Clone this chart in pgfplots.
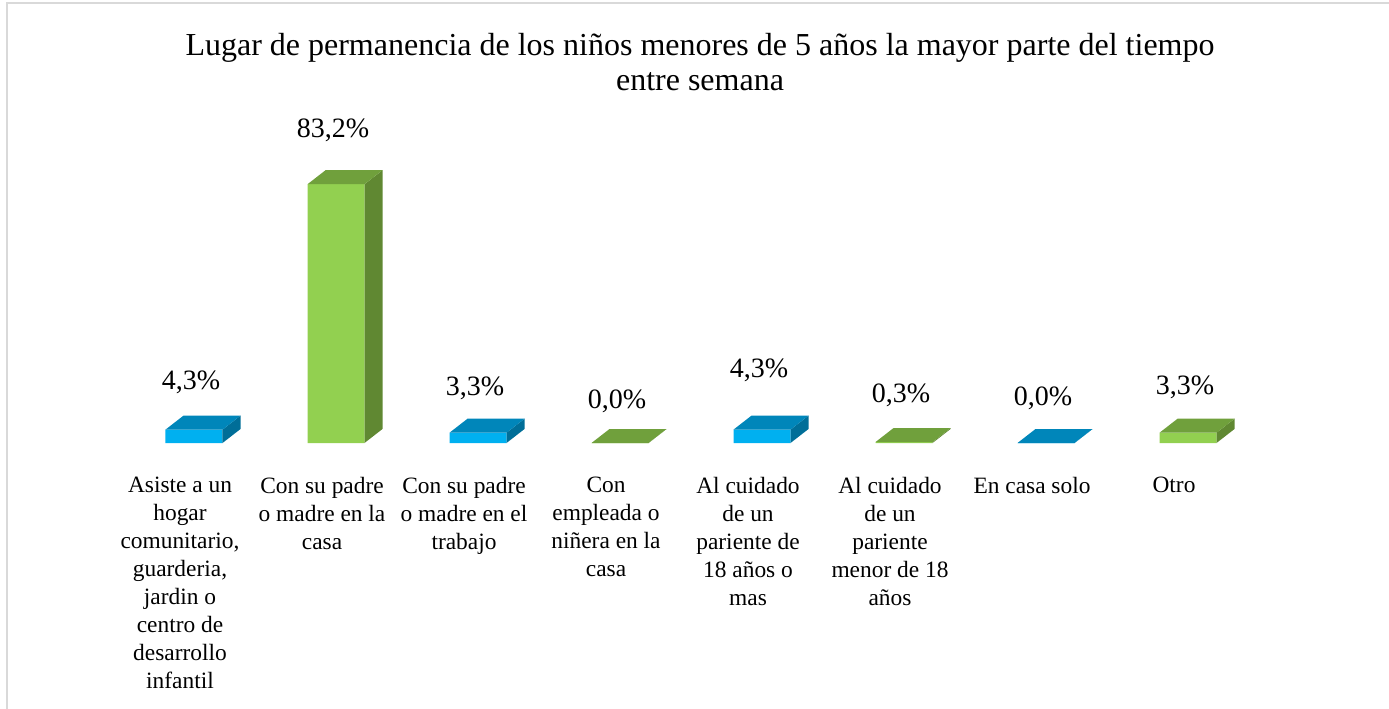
\documentclass[border=0pt]{standalone}
\usepackage{fontspec}
\setmainfont{Liberation Serif}
\usepackage{pgfplots}
\usepackage{pgfplotstable}
\pgfplotsset{compat=1.18}

\definecolor{bluefront}{RGB}{0,176,240}
\definecolor{bluetop}{RGB}{0,134,186}
\definecolor{blueside}{RGB}{0,110,152}
\definecolor{greenfront}{RGB}{146,208,80}
\definecolor{greentop}{RGB}{112,160,60}
\definecolor{greenside}{RGB}{96,136,50}
\definecolor{framegray}{RGB}{217,217,217}

% 3d look: half width 14.25pt, depth 9pt right / 7pt up, 1% = 1.555pt
\pgfdeclareplotmark{barside}{%
  \pgfmathsetmacro\hh{\barval*1.555}%
  \pgfpathmoveto{\pgfpoint{14.25pt}{0pt}}%
  \pgfpathlineto{\pgfpoint{23.25pt}{7pt}}%
  \pgfpathlineto{\pgfpoint{23.25pt}{7pt-\hh pt}}%
  \pgfpathlineto{\pgfpoint{14.25pt}{-\hh pt}}%
  \pgfpathclose
  \pgfusepath{fill}%
}
\pgfdeclareplotmark{bartop}{%
  \pgfpathmoveto{\pgfpoint{-14.25pt}{0pt}}%
  \pgfpathlineto{\pgfpoint{14.25pt}{0pt}}%
  \pgfpathlineto{\pgfpoint{23.25pt}{7pt}}%
  \pgfpathlineto{\pgfpoint{-5.25pt}{7pt}}%
  \pgfpathclose
  \pgfusepath{fill}%
}

% off = distance (pt) from bar top to the value label
\pgfplotstableread{
x v off
1 4.3 23.8
3 3.3 22.4
5 4.3 29.8
7 0.0 22.5
}\bluebars
\pgfplotstableread{
x v off
2 83.2 27
4 0.0 21
6 0.3 23.5
8 3.3 22.9
}\greenbars

\pgfplotsset{
  frontbar/.style={
    ybar, bar width=28.5pt, bar shift=0pt, draw=none, fill=#1,
    visualization depends on={\thisrow{off}\as\off},
    nodes near coords={\pgfmathprintnumber[fixed,fixed zerofill,precision=1,use comma,assume math mode=true]{\pgfplotspointmeta}\%},
    every node near coord/.append style={
      font=\fontsize{14}{16}\selectfont, text=black,
      anchor=center, xshift=-1.5pt, yshift=\off pt},
  },
  face/.style={
    only marks, mark=#1,
    visualization depends on={\thisrow{v}\as\barval},
  },
}

\begin{document}
\begin{tikzpicture}
\useasboundingbox (0,0) rectangle (694.5pt,354pt);
\draw[framegray, line width=1pt] (3.25pt,-20pt) -- (3.25pt,352.25pt) -- (720pt,352.25pt);
\node[align=center, font=\fontsize{16}{17.5}\selectfont] at (350pt,322.75pt)
  {Lugar de permanencia de los niños menores de 5 años la mayor parte del tiempo\\entre semana};

\begin{axis}[
  at={(61.5pt,132.5pt)}, anchor=south west,
  scale only axis, x=71pt, y=1.555pt,
  xmin=0.5, xmax=8.5, ymin=0, ymax=90,
  clip=false,
  axis line style={draw=none},
  ytick=\empty,
  xtick={1,...,8},
  major tick length=0pt,
  xticklabels={
    {Asiste a un\\hogar\\comunitario,\\guarderia,\\jardin o\\centro de\\desarrollo\\infantil},
    {Con su padre\\o madre en la\\casa},
    {Con su padre\\o madre en el\\trabajo},
    {Con\\empleada o\\niñera en la\\casa},
    {Al cuidado\\de un\\pariente de\\18 años o\\mas},
    {Al cuidado\\de un\\pariente\\menor de 18\\años},
    {En casa solo},
    {Otro}},
  xticklabel style={font=\fontsize{11.7}{14}\selectfont, align=center,
    anchor=north, xshift=-7pt, yshift=-13.5pt},
]
\addplot[frontbar=bluefront] table[x=x, y=v] {\bluebars};
\addplot[face=barside, mark options={fill=blueside}] table[x=x, y=v] {\bluebars};
\addplot[face=bartop, mark options={fill=bluetop}] table[x=x, y=v] {\bluebars};

\addplot[frontbar=greenfront] table[x=x, y=v] {\greenbars};
\addplot[face=barside, mark options={fill=greenside}] table[x=x, y=v] {\greenbars};
\addplot[face=bartop, mark options={fill=greentop}] table[x=x, y=v] {\greenbars};
\end{axis}
\end{tikzpicture}
\end{document}
